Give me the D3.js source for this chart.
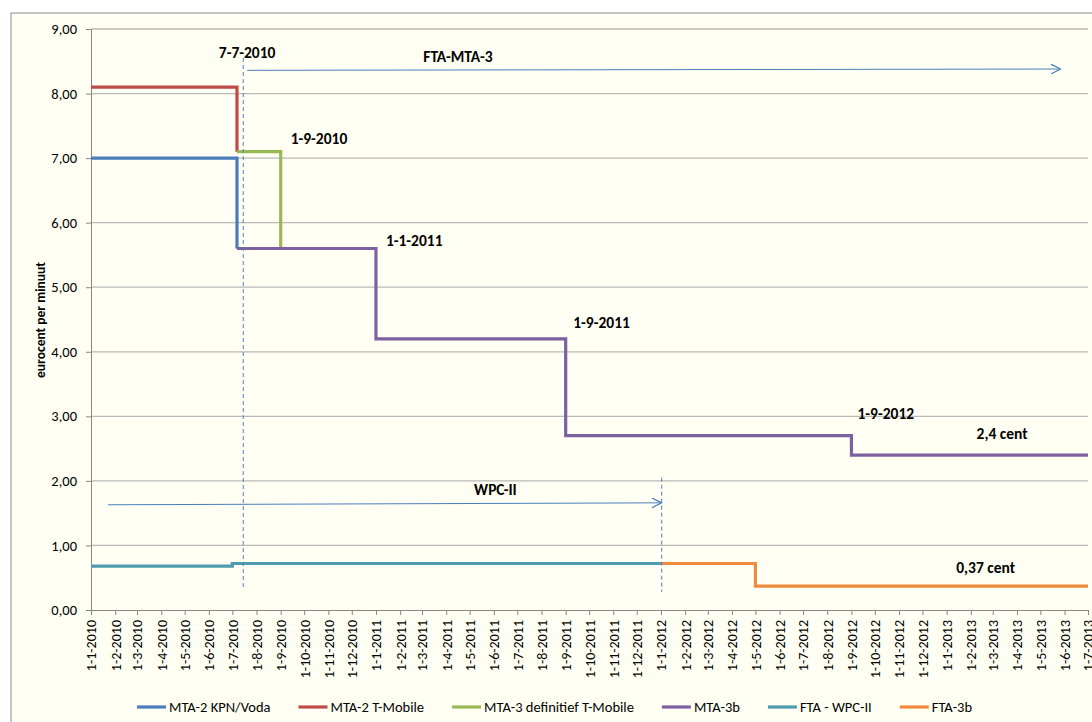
<!DOCTYPE html>
<html>
<head>
<meta charset="utf-8">
<script src="https://cdn.jsdelivr.net/npm/d3@7"></script>
<style>
  body { margin: 0; background: #fff; }
  svg text { font-family: Carlito, Calibri, Lato, "Open Sans", sans-serif; fill: #000; }
</style>
</head>
<body>
<svg id="chart" width="1092" height="722"></svg>
<script>
// maandelijkse categorieën op de x-as
const tickDates = d3.timeMonth.range(new Date(2010, 0, 1), new Date(2013, 6, 2));
const yTicks = [0, 1, 2, 3, 4, 5, 6, 7, 8, 9];

// series: breekpunten [datum, tarief], getekend als trap
const mta2Kpn = [["2010-01-01", 7.0], ["2010-07-07", 5.6]];
const mta2TMobile = [["2010-01-01", 8.1], ["2010-07-07", 7.1]];
const mta3TMobile = [["2010-07-07", 7.1], ["2010-09-01", 5.6]];
const mta3b = [["2010-07-07", 5.6], ["2011-01-01", 4.2], ["2011-09-01", 2.7], ["2012-09-01", 2.4], ["2013-07-01", 2.4]];
const ftaWpc = [["2010-01-01", 0.68], ["2010-07-01", 0.72], ["2012-01-01", 0.72]];
const fta3b = [["2012-01-01", 0.72], ["2012-05-01", 0.37], ["2013-07-01", 0.37]];

const seriesNames = ["MTA-2 KPN/Voda", "MTA-2 T-Mobile", "MTA-3 definitief T-Mobile", "MTA-3b", "FTA - WPC-II", "FTA-3b"];
const seriesData = [mta2Kpn, mta2TMobile, mta3TMobile, mta3b, ftaWpc, fta3b];
const seriesColors = ["#4A7EBB", "#BE4B48", "#98B954", "#7D60A0", "#4F9BB0", "#F08A3E"];

// annotaties (datum, waarde)
const labelTexts = ["7-7-2010", "FTA-MTA-3", "1-9-2010", "1-1-2011", "1-9-2011", "1-9-2012", "2,4 cent", "0,37 cent", "WPC-II"];
const labelDates = ["2010-07-20", "2011-04-16", "2010-10-20", "2011-02-19", "2011-10-17", "2012-10-15", "2013-03-13", "2013-02-20", "2011-06-03"];
const labelValues = [8.64, 8.57, 7.31, 5.72, 4.45, 3.04, 2.74, 0.65, 1.86];
const dashedLines = [["2010-07-15", 8.55, 0.31], ["2012-01-02", 2.05, 0.28]];
const arrows = [["2010-07-20", 8.36, "2013-05-27", 8.38], ["2010-01-23", 1.63, "2012-01-02", 1.66]];

const parse = d3.timeParse("%Y-%m-%d");
const svg = d3.select("#chart");
const margin = { left: 91, right: 1088, top: 29, bottom: 610 };

// achtergrond en kader
svg.append("rect").attr("x", 11).attr("y", 13).attr("width", 1100).attr("height", 720)
  .attr("fill", "#FFFFF3").attr("stroke", "#8C8C8C").attr("stroke-width", 1);

const x = d3.scaleTime().domain([new Date(2010, 0, 1), new Date(2013, 6, 1)]).range([margin.left, margin.right]);
const y = d3.scaleLinear().domain([0, 9]).range([margin.bottom, margin.top]);

// rasterlijnen
svg.append("g").selectAll("line").data(yTicks.filter((d) => d > 0)).enter().append("line")
  .attr("x1", margin.left).attr("x2", margin.right)
  .attr("y1", (d) => y(d)).attr("y2", (d) => y(d))
  .attr("stroke", "#B9B9B9").attr("stroke-width", 1.3);

// y-as
const yAxis = svg.append("g").attr("transform", `translate(${margin.left},0)`)
  .call(d3.axisLeft(y).tickValues(yTicks).tickSize(5).tickPadding(9).tickFormat((d) => d3.format(".2f")(d).replace(".", ",")));
yAxis.select(".domain").attr("stroke", "#868686");
yAxis.selectAll(".tick line").attr("stroke", "#868686");
yAxis.selectAll("text").style("font-size", "14.5px");

// x-as
const xAxis = svg.append("g").attr("transform", `translate(0,${margin.bottom})`)
  .call(d3.axisBottom(x).tickValues(tickDates).tickSize(5).tickSizeOuter(0).tickFormat(d3.timeFormat("%-d-%-m-%Y")));
xAxis.select(".domain").attr("stroke", "#868686");
xAxis.selectAll(".tick line").attr("stroke", "#868686");
xAxis.selectAll("text").style("font-size", "14px")
  .attr("transform", "rotate(-90)").attr("text-anchor", "end")
  .attr("x", -10).attr("y", 0).attr("dy", "0.35em");

// y-as titel
svg.append("text").attr("transform", "translate(40,320) rotate(-90)")
  .attr("text-anchor", "middle").attr("dy", "0.35em").style("font-size", "13.5px").style("font-weight", "bold")
  .text("eurocent per minuut");

// trap-lijnen
const line = d3.line().x((d) => x(parse(d[0]))).y((d) => y(d[1])).curve(d3.curveStepAfter);
seriesData.forEach((s, i) => {
  svg.append("path").datum(s).attr("d", line)
    .attr("fill", "none").attr("stroke", seriesColors[i]).attr("stroke-width", 3.2);
});

// gestippelde lijnen
svg.append("g").selectAll("line").data(dashedLines).enter().append("line")
  .attr("x1", (d) => x(parse(d[0]))).attr("x2", (d) => x(parse(d[0])))
  .attr("y1", (d) => y(d[1])).attr("y2", (d) => y(d[2]))
  .attr("stroke", "#4A7EBB").attr("stroke-width", 1).attr("stroke-dasharray", "4,3");

// pijlen
svg.append("defs").append("marker").attr("id", "arrow")
  .attr("viewBox", "0 0 10 10").attr("refX", 10).attr("refY", 5)
  .attr("markerWidth", 10).attr("markerHeight", 10).attr("markerUnits", "userSpaceOnUse").attr("orient", "auto")
  .append("path").attr("d", "M0,0 L10,5 L0,10").attr("fill", "none").attr("stroke", "#4A7EBB").attr("stroke-width", 1.2);

svg.append("g").selectAll("line").data(arrows).enter().append("line")
  .attr("x1", (d) => x(parse(d[0]))).attr("y1", (d) => y(d[1]))
  .attr("x2", (d) => x(parse(d[2]))).attr("y2", (d) => y(d[3]))
  .attr("stroke", "#4A7EBB").attr("stroke-width", 1).attr("marker-end", "url(#arrow)");

// labels
svg.append("g").selectAll("text").data(labelTexts).enter().append("text")
  .attr("x", (d, i) => x(parse(labelDates[i]))).attr("y", (d, i) => y(labelValues[i]))
  .attr("dy", "0.35em").attr("text-anchor", "middle")
  .style("font-size", "15.5px").style("font-weight", "bold")
  .text((d) => d);

// legenda
const legend = svg.append("g").attr("transform", "translate(137,707)");
let lx = 0;
seriesNames.forEach((name, i) => {
  legend.append("line").attr("x1", lx).attr("x2", lx + 29).attr("y1", 0).attr("y2", 0)
    .attr("stroke", seriesColors[i]).attr("stroke-width", 3.2);
  const t = legend.append("text").attr("x", lx + 32).attr("y", 0).attr("dy", "0.35em")
    .style("font-size", "14.5px").text(name);
  lx += 32 + t.node().getComputedTextLength() + 28;
});
</script>
</body>
</html>
